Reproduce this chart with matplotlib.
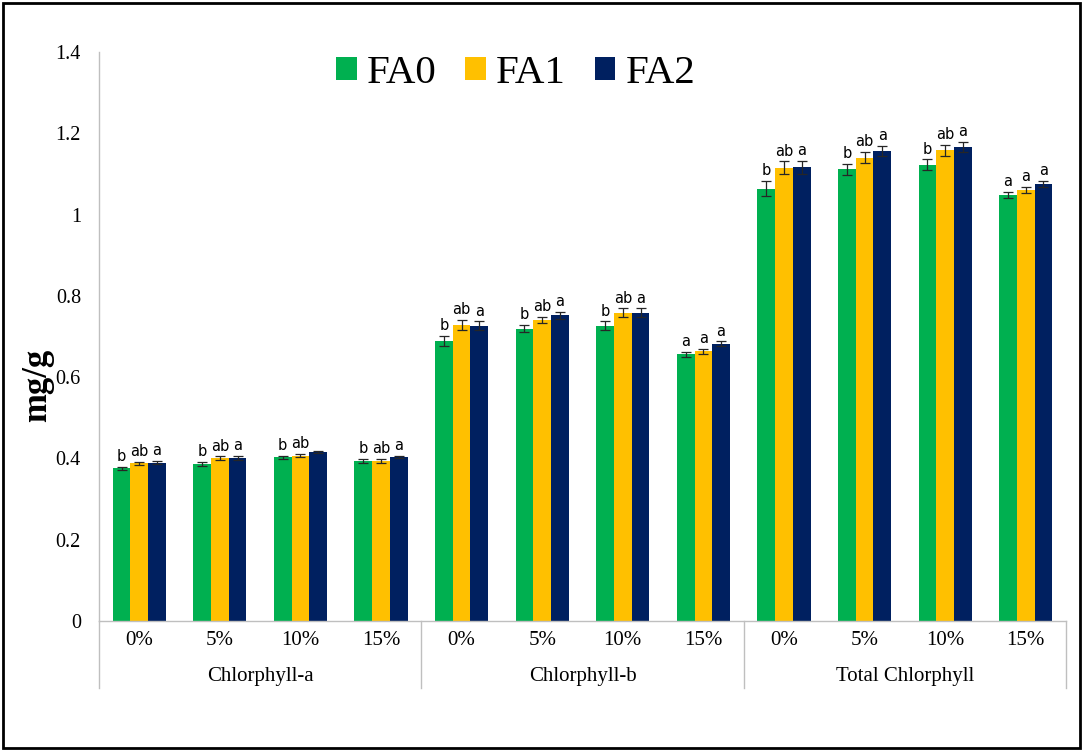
import matplotlib
matplotlib.use("Agg")
import matplotlib.pyplot as plt
import matplotlib.patches as patches
import numpy as np

# data (mg/g)
groups = ["Chlorphyll-a", "Chlorphyll-b", "Total Chlorphyll"]
doses = ["0%", "5%", "10%", "15%"]
series = ["FA0", "FA1", "FA2"]
colors = ["#00B050", "#FFC000", "#002060"]

fa0 = [0.376, 0.386, 0.403, 0.394, 0.689, 0.719, 0.727, 0.656, 1.064, 1.111, 1.123, 1.049]
fa1 = [0.388, 0.400, 0.407, 0.394, 0.728, 0.741, 0.759, 0.664, 1.115, 1.140, 1.158, 1.061]
fa2 = [0.390, 0.402, 0.416, 0.404, 0.727, 0.752, 0.759, 0.682, 1.116, 1.157, 1.166, 1.075]

err0 = [0.004, 0.005, 0.004, 0.004, 0.012, 0.009, 0.010, 0.006, 0.018, 0.013, 0.013, 0.007]
err1 = [0.004, 0.005, 0.004, 0.004, 0.012, 0.008, 0.010, 0.006, 0.016, 0.014, 0.013, 0.007]
err2 = [0.004, 0.005, 0.003, 0.003, 0.010, 0.009, 0.010, 0.006, 0.016, 0.013, 0.013, 0.008]

let0 = ["b", "b", "b", "b", "b", "b", "b", "a", "b", "b", "b", "a"]
let1 = ["ab", "ab", "ab", "ab", "ab", "ab", "ab", "a", "ab", "ab", "ab", "a"]
let2 = ["a", "a", "", "a", "a", "a", "a", "a", "a", "a", "a", "a"]

values = [fa0, fa1, fa2]
errors = [err0, err1, err2]
letters = [let0, let1, let2]

fig = plt.figure(figsize=(10.84, 7.53), dpi=100)
ax = fig.add_axes([0.0913, 0.1753, 0.8921, 0.7556])

x = np.arange(len(fa0))
w = 0.22
for k in range(3):
    xs = x + (k - 1) * w
    ax.bar(xs, values[k], w, color=colors[k], label=series[k], zorder=2)
    ax.errorbar(xs, values[k], yerr=errors[k], fmt="none", ecolor="#262626",
                elinewidth=0.9, capsize=3.5, capthick=0.9, zorder=3)
    for xi, v, e, t in zip(xs, values[k], errors[k], letters[k]):
        if t:
            ax.annotate(t, (xi, v + e), xytext=(0, 2), textcoords="offset points",
                        ha="center", va="bottom", fontsize=10.5,
                        family="DejaVu Sans")

ax.set_xlim(-0.5, len(fa0) - 0.5)
ax.set_ylim(0, 1.4)
ax.set_yticks(np.arange(0, 1.41, 0.2))
ax.set_yticklabels(["0", "0.2", "0.4", "0.6", "0.8", "1", "1.2", "1.4"])
ax.set_xticks(x)
ax.set_xticklabels(doses * len(groups))
ax.tick_params(axis="y", length=0, pad=13, labelsize=14.5)
ax.tick_params(axis="x", length=0, pad=7, labelsize=15)
for lab in ax.get_xticklabels() + ax.get_yticklabels():
    lab.set_family("Liberation Serif")

for s in ["top", "right"]:
    ax.spines[s].set_visible(False)
for s in ["left", "bottom"]:
    ax.spines[s].set_color("#BFBFBF")
    ax.spines[s].set_linewidth(1)

# group separators and group names under the axis
trans = ax.get_xaxis_transform()
for b in np.arange(-0.5, len(fa0), 4):
    ax.plot([b, b], [0, -0.118], transform=trans, color="#BFBFBF", lw=1, clip_on=False)
for i, g in enumerate(groups):
    ax.text(i * 4 + 1.5, -0.098, g, transform=trans, ha="center", va="center",
            fontsize=15, family="Liberation Serif")

ax.set_ylabel("mg/g", fontsize=25, fontweight="bold", family="Liberation Serif")
ax.yaxis.set_label_coords(-0.046, 0.415)

leg = ax.legend(loc="upper center", bbox_to_anchor=(0.431, 1.06), ncol=3, frameon=False,
                prop={"family": "Liberation Serif", "size": 29.5},
                handlelength=0.5, handleheight=0.5, handletextpad=0.25, columnspacing=0.7)

fig.patches.append(patches.Rectangle((0.0028, 0.0066), 0.9935, 0.989, transform=fig.transFigure,
                                     fill=False, edgecolor="black", linewidth=2))

fig.savefig("out.png", dpi=100)
